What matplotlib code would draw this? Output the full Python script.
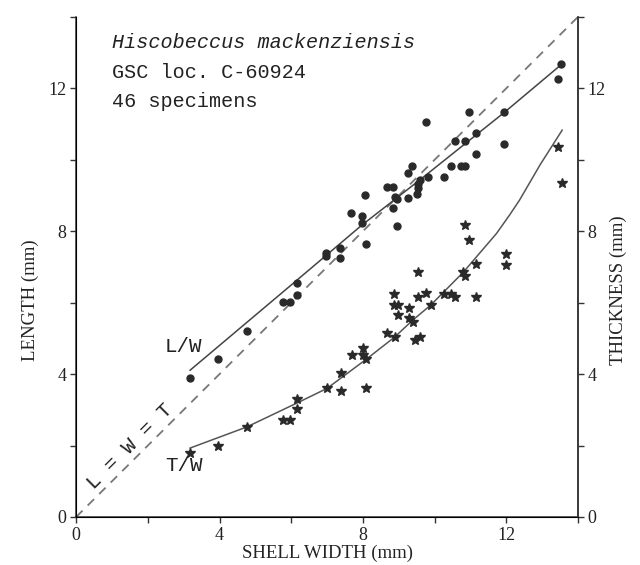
import matplotlib.pyplot as plt
import numpy as np

plt.rcParams['font.family'] = 'Liberation Serif'

# shell width vs length (dots)
lw_width = [3.18, 3.96, 4.76, 5.77, 5.96, 6.16, 6.16, 6.96, 6.96, 7.35, 7.35,
            7.66, 7.97, 7.97, 8.05, 8.08, 8.94, 8.66, 8.83, 8.89, 8.94, 8.83,
            9.25, 9.25, 9.36, 9.50, 9.53, 9.55, 9.58, 9.75, 9.83, 10.25, 10.47,
            10.75, 10.86, 10.56, 10.86, 11.17, 11.17, 10.95, 11.95, 11.95,
            13.54, 13.45]
lw_length = [3.89, 4.42, 5.20, 6.01, 6.01, 6.21, 6.55, 7.38, 7.30, 7.52, 7.24,
             8.50, 8.42, 8.22, 9.01, 7.64, 8.14, 9.23, 9.23, 8.95, 8.90, 8.64,
             8.92, 9.62, 9.82, 9.03, 9.20, 9.31, 9.43, 11.05, 9.51, 9.51, 9.82,
             9.82, 9.82, 10.52, 10.52, 10.74, 10.15, 11.33, 11.33, 10.43,
             12.67, 12.25]

# shell width vs thickness (stars)
tw_width = [3.18, 3.96, 4.76, 5.77, 5.96, 6.16, 6.16, 6.99, 7.38, 7.38, 7.69,
            7.99, 7.99, 8.10, 8.08, 8.66, 8.89, 8.86, 8.86, 8.97, 8.97, 9.28,
            9.28, 9.39, 9.45, 9.58, 9.55, 9.55, 9.77, 9.89, 10.25, 10.47,
            10.58, 10.78, 10.86, 11.17, 11.17, 10.86, 10.95, 11.98, 11.98,
            13.45, 13.56]
tw_thick = [1.79, 1.99, 2.52, 2.71, 2.71, 3.02, 3.30, 3.61, 3.52, 4.03, 4.53,
            4.73, 4.53, 4.42, 3.61, 5.15, 5.04, 6.24, 5.93, 5.93, 5.65, 5.85,
            5.57, 5.45, 4.95, 5.04, 6.85, 6.15, 6.27, 5.93, 6.24, 6.24, 6.15,
            6.85, 6.74, 7.08, 6.15, 8.17, 7.75, 7.36, 7.05, 10.35, 9.34]

# regression curves as drawn in the figure
lw_fit_x = [3.18, 6.16, 7.97, 9.58, 11.95, 13.54]
lw_fit_y = [4.11, 6.63, 8.17, 9.43, 11.33, 12.67]
tw_fit_x = [3.18, 4.76, 6.16, 7.0, 8.1, 8.89, 9.39, 9.89, 10.8, 11.73, 12.09,
            12.37, 12.95, 13.56]
tw_fit_y = [1.93, 2.52, 3.19, 3.6, 4.42, 5.04, 5.51, 5.93, 6.85, 7.94, 8.45,
            8.87, 9.87, 10.83]

ink = '#2a2a2a'
fig = plt.figure(figsize=(6.4, 5.65), dpi=100)
ax = fig.add_axes([0.119, 0.085, 0.784, 0.885])

ax.plot([0, 14], [0, 14], ls=(0, (5, 4)), color='#777777', lw=1.3)
ax.plot(lw_fit_x, lw_fit_y, color='#444444', lw=1.1)
ax.plot(tw_fit_x, tw_fit_y, color='#555555', lw=1.1)
ax.plot(lw_width, lw_length, 'o', color=ink, ms=5, mec=ink)
ax.plot(tw_width, tw_thick, '*', color=ink, ms=7.5, mec=ink)

ax.set_xlim(0, 14)
ax.set_ylim(0, 14)
ax.spines['top'].set_visible(False)
for s in ['left', 'right', 'bottom']:
    ax.spines[s].set_color('#333333')
    ax.spines[s].set_linewidth(1.1)

ticks = np.arange(0, 15, 2)
labels = ['0', '', '4', '', '8', '', '12', '']
ax.set_xticks(ticks)
ax.set_xticklabels(labels)
ax.set_yticks(ticks)
ax.set_yticklabels(labels)
ax.tick_params(direction='out', length=4, width=1.0, color='#333333',
               labelsize=13, pad=3, labelcolor='#222222')

ax2 = ax.twinx()
ax2.set_ylim(0, 14)
ax2.set_yticks(ticks)
ax2.set_yticklabels(labels)
ax2.spines['top'].set_visible(False)
ax2.spines['right'].set_color('#333333')
ax2.spines['right'].set_linewidth(1.1)
ax2.tick_params(direction='out', length=4, width=1.0, color='#333333',
                labelsize=13, pad=3, labelcolor='#222222')

mono = 'Liberation Mono'
ax.text(1.0, 13.29, 'Hiscobeccus mackenziensis', family=mono, style='italic',
        fontsize=14.5, va='center', color='#222222')
ax.text(1.0, 12.45, 'GSC loc. C-60924', family=mono, fontsize=14.5,
        va='center', color='#222222')
ax.text(1.0, 11.64, '46 specimens', family=mono, fontsize=14.5,
        va='center', color='#222222')
ax.text(3.0, 4.78, 'L/W', family=mono, fontsize=15, ha='center', va='center',
        color='#222222')
ax.text(3.0, 1.45, 'T/W', family=mono, fontsize=15, ha='center', va='center',
        color='#222222')
ax.text(1.5, 1.98, 'L = W = T', family=mono, fontsize=15, ha='center',
        va='center', rotation=45, color='#222222')

fig.text(327 / 640, 1 - 553 / 565, 'SHELL WIDTH (mm)', ha='center',
         va='center', fontsize=13.5, color='#222222')
fig.text(30 / 640, 1 - 300 / 565, 'LENGTH (mm)', ha='center', va='center',
         rotation=90, fontsize=13.5, color='#222222')
fig.text(618 / 640, 1 - 290 / 565, 'THICKNESS (mm)', ha='center',
         va='center', rotation=90, fontsize=13.5, color='#222222')

plt.savefig('out.png', dpi=100)
